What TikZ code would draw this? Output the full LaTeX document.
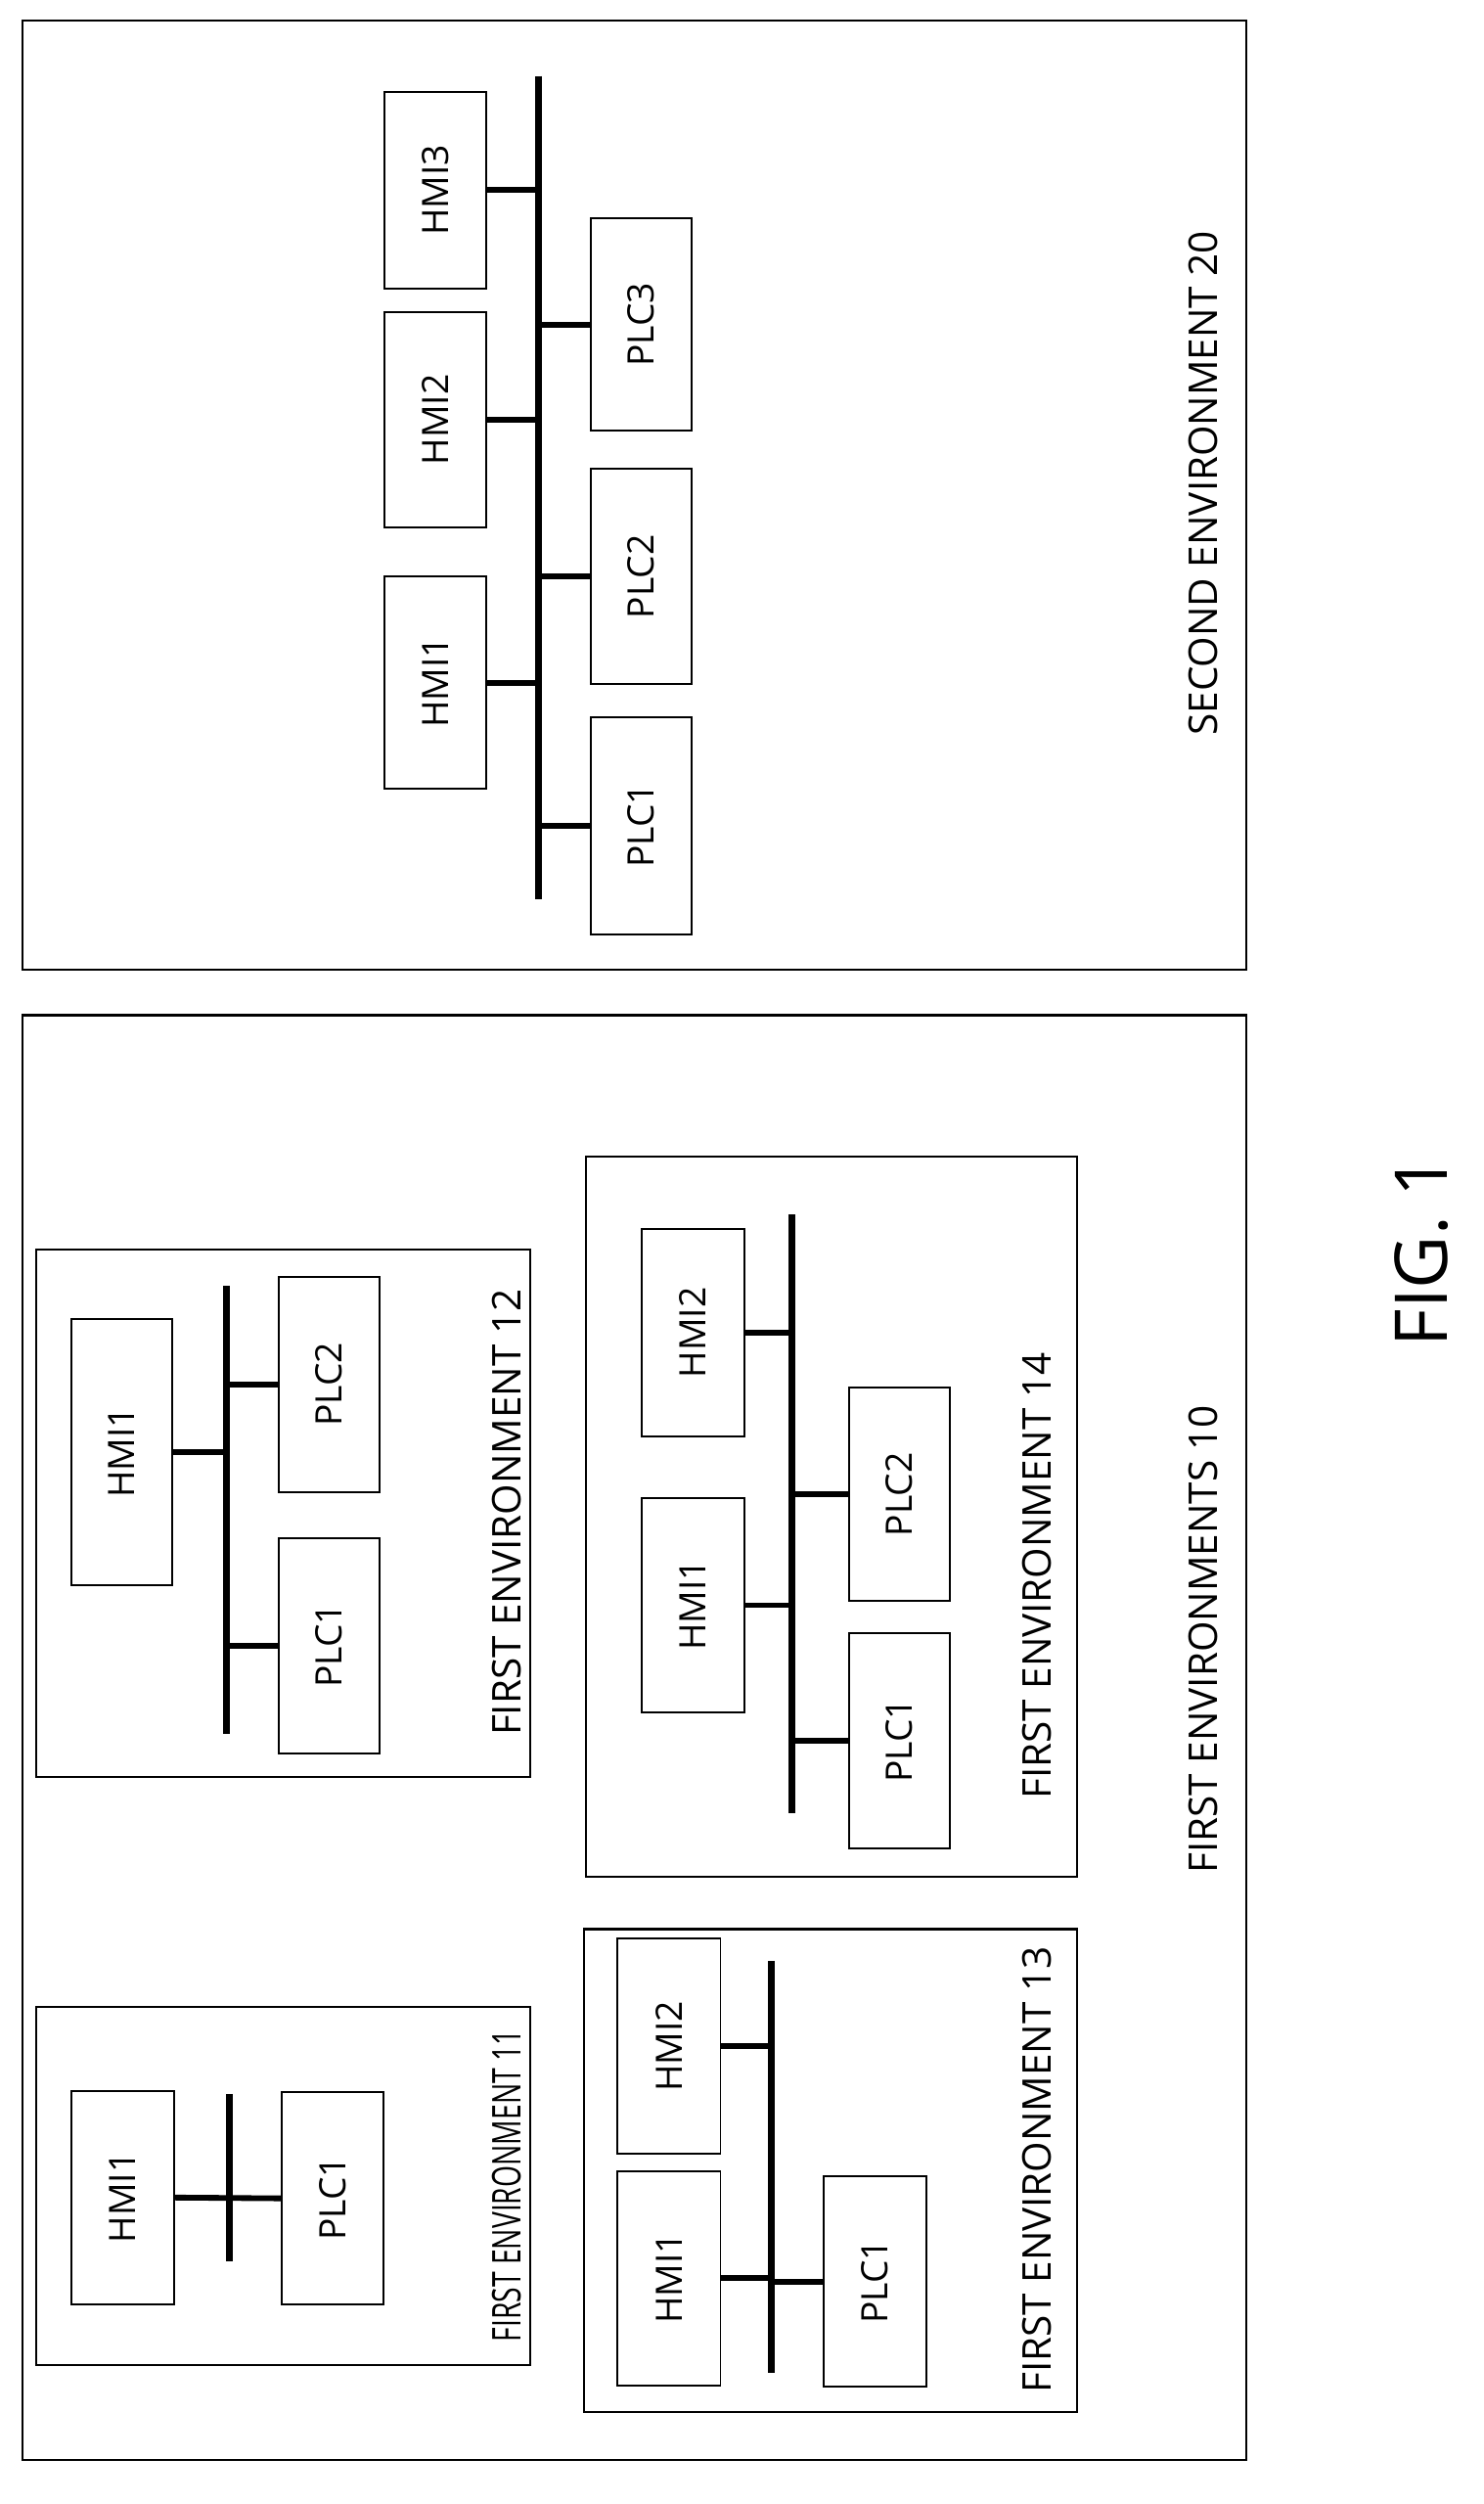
\documentclass[tikz,border=0pt]{standalone}
\usepackage{fontspec}
\setmainfont{Open Sans}
\begin{document}
\begin{tikzpicture}[x=1pt,y=-1pt,
  dev/.style={draw,line width=1.2pt,inner sep=0pt},
  env/.style={draw,line width=1.3pt},
  bus/.style={line width=4.2pt},
  stub/.style={line width=3.6pt},
  lab/.style={rotate=90,font=\fontsize{25}{27}\selectfont}]
\newcommand{\dev}[6]{\node[dev,minimum width=#4-#2,minimum height=#5-#3] (#1) at ({(#2+#4)/2},{(#3+#5)/2}) {\rotatebox{90}{\fontsize{23}{25}\selectfont #6}};}
\useasboundingbox (0,0) rectangle (937,1581);
% second environment
\draw[env] (14,13) rectangle (787,612);
\coordinate (b2t) at (340,48); \coordinate (b2b) at (340,568);
\draw[bus] (b2t) -- (b2b);
\dev{sh3}{243}{58}{307}{182}{HMI3}
\dev{sh2}{243}{197}{307}{333}{HMI2}
\dev{sh1}{243}{364}{307}{498}{HMI1}
\dev{sp3}{373}{138}{437}{272}{PLC3}
\dev{sp2}{373}{296}{437}{432}{PLC2}
\dev{sp1}{373}{453}{437}{590}{PLC1}
\foreach \n in {sh3,sh2,sh1} \draw[stub] (\n.east) -- (\n.east -| b2t);
\foreach \n in {sp3,sp2,sp1} \draw[stub] (\n.west) -- (\n.west -| b2t);
\node[lab] (l20) at (760,305) {SECOND ENVIRONMENT 20};
% first environments
\draw[env] (14,641) rectangle (787,1553);
\node[lab] (l10) at (760,1035) {FIRST ENVIRONMENTS 10};
% env 12
\draw[env] (23,789) rectangle (335,1122);
\coordinate (b12) at (143,812); \draw[bus] (b12) -- (143,1095);
\dev{a1}{45}{833}{109}{1001}{HMI1}
\dev{a2}{176}{971}{240}{1107}{PLC1}
\dev{a3}{176}{806}{240}{942}{PLC2}
\draw[stub] (a1.east) -- (a1.east -| b12);
\draw[stub] (a2.west) -- (a2.west -| b12);
\draw[stub] (a3.west) -- (a3.west -| b12);
\node[lab] (l12) at (320,955) {FIRST ENVIRONMENT 12};
% env 14
\draw[env] (370,730) rectangle (680,1185);
\coordinate (b14) at (500,767); \draw[bus] (b14) -- (500,1145);
\dev{c1}{405}{776}{470}{907}{HMI2}
\dev{c2}{405}{946}{470}{1081}{HMI1}
\dev{c3}{536}{876}{600}{1011}{PLC2}
\dev{c4}{536}{1031}{600}{1167}{PLC1}
\draw[stub] (c1.east) -- (c1.east -| b14);
\draw[stub] (c2.east) -- (c2.east -| b14);
\draw[stub] (c3.west) -- (c3.west -| b14);
\draw[stub] (c4.west) -- (c4.west -| b14);
\node[lab] (l14) at (655,995) {FIRST ENVIRONMENT 14};
% env 11
\draw[env] (23,1267) rectangle (335,1493);
\coordinate (b11) at (145,1322); \draw[bus] (b11) -- (145,1428);
\dev{d1}{45}{1320}{110}{1455}{HMI1}
\dev{d2}{178}{1321}{242}{1455}{PLC1}
\draw[stub] (d1.east) -- (d2.west);
\node[lab,xscale=0.7] (l11) at (320,1380) {FIRST ENVIRONMENT 11};
% env 13
\draw[env] (369,1218) rectangle (680,1523);
\coordinate (b13) at (487,1238); \draw[bus] (b13) -- (487,1498);
\dev{e1}{390}{1224}{455}{1360}{HMI2}
\dev{e2}{390}{1371}{455}{1506}{HMI1}
\dev{e3}{520}{1374}{585}{1507}{PLC1}
\draw[stub] (e1.east) -- (e1.east -| b13);
\draw[stub] (e2.east) -- (e2.east -| b13);
\draw[stub] (e3.west) -- (e3.west -| b13);
\node[lab] (l13) at (655,1370) {FIRST ENVIRONMENT 13};
\node[rotate=90,font=\fontsize{46}{50}\selectfont] (fig) at (898,790) {FIG. 1};
\end{tikzpicture}
\end{document}
